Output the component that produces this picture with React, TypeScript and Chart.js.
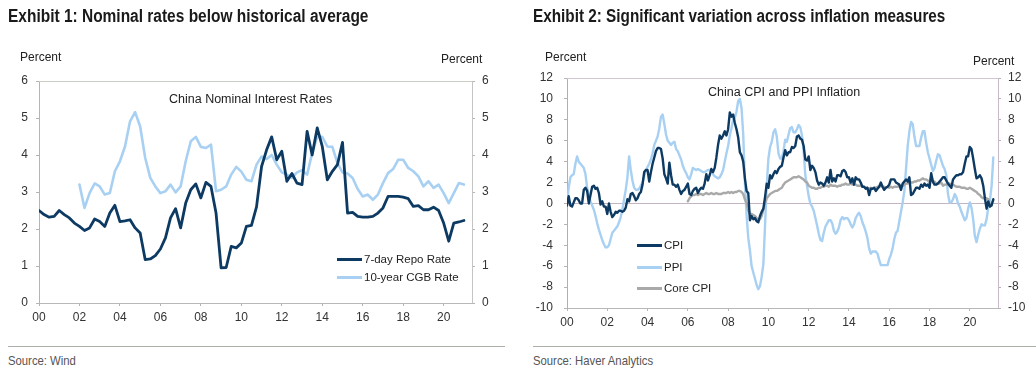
import React, { useEffect, useRef } from "react";
import { Chart, registerables } from "chart.js";
Chart.register(...registerables);

const NAVY = "#0d3a63";
const LIGHT = "#a8d0f2";
const GREY = "#a9a9a9";
const FONT = "'Liberation Sans', Arial, sans-serif";

// x axis: years since 2000
const xTickYears = [0, 2, 4, 6, 8, 10, 12, 14, 16, 18, 20];
const xTickLabels = ["00", "02", "04", "06", "08", "10", "12", "14", "16", "18", "20"];

// Exhibit 1 (quarterly)
const ratesTicks = [0, 1, 2, 3, 4, 5, 6];
const repoStart = 0; // 2000Q1
const repoRate = [
  2.5, 2.39, 2.32, 2.34,
  2.5, 2.39, 2.3, 2.16,
  2.07, 1.96, 2.03, 2.27,
  2.2, 2.07, 2.43, 2.64,
  2.2, 2.22, 2.25, 2.03,
  1.89, 1.17, 1.19, 1.28,
  1.46, 1.76, 2.3, 2.55,
  2.03, 2.7, 3.06, 3.22,
  2.84, 3.26, 3.15, 2.43,
  0.95, 0.96, 1.53, 1.49,
  1.62, 2.07, 2.1, 2.6,
  3.69, 4.14, 4.49, 3.87,
  4.1, 3.29, 3.5, 3.24,
  3.2, 4.64, 4.0, 4.73,
  4.23, 3.33, 3.56, 3.74,
  4.34, 2.43, 2.45, 2.34,
  2.32, 2.32, 2.34, 2.43,
  2.57, 2.88, 2.88, 2.88,
  2.86, 2.82, 2.61, 2.63,
  2.52, 2.52, 2.59, 2.5,
  2.16, 1.67, 2.16, 2.19,
  2.23,
];
const cgbStart = 2; // 2002Q1
const cgbRate = [
  3.2, 2.57, 2.97, 3.23,
  3.15, 2.93, 2.97, 3.56,
  3.83, 4.23, 4.91, 5.16,
  4.77, 3.92, 3.38, 3.15,
  2.97, 3.02, 3.2, 2.99,
  3.15, 3.83, 4.37, 4.49,
  4.22, 4.19, 4.28, 3.02,
  3.06, 3.15, 3.47, 3.68,
  3.55, 3.33, 3.29, 3.74,
  3.96, 3.89, 4.0, 3.74,
  3.53, 3.47, 3.38, 3.53,
  3.59, 3.47, 4.05, 4.49,
  4.49, 4.23, 4.22, 3.78,
  3.53, 3.5, 3.38, 3.08,
  2.88, 2.93, 2.79, 2.93,
  3.24, 3.51, 3.62, 3.87,
  3.87, 3.65, 3.56, 3.42,
  3.15, 3.29, 3.11, 3.2,
  2.97, 2.7, 2.97, 3.24,
  3.2,
];

// Exhibit 2 (monthly)
const inflTicks = [-10, -8, -6, -4, -2, 0, 2, 4, 6, 8, 10, 12];
const cpiStart = 0; // Jan 2000
const cpi = [
  -0.2, 0.7, -0.2, -0.3, 0.1, 0.5, 0.5, 0.3, 0.0, 0.0, 1.3, 1.5,
  1.2, 0.0, 0.8, 1.6, 1.7, 1.4, 1.5, 1.0, -0.1, 0.2, -0.3, -0.3,
  -1.0, 0.0, -0.8, -1.3, -1.1, -0.8, -0.9, -0.7, -0.7, -0.8, -0.7, -0.4,
  0.4, 0.2, 0.9, 1.0, 0.7, 0.3, 0.5, 0.9, 1.1, 1.8, 3.0, 3.2,
  3.2, 2.1, 3.0, 3.8, 4.4, 5.0, 5.3, 5.3, 5.2, 4.3, 2.8, 2.4,
  1.9, 3.9, 2.7, 1.8, 1.8, 1.6, 1.8, 1.3, 0.9, 1.2, 1.3, 1.6,
  1.9, 0.9, 0.8, 1.2, 1.4, 1.5, 1.0, 1.3, 1.5, 1.4, 1.9, 2.8,
  2.2, 2.7, 3.3, 3.0, 3.4, 4.4, 5.6, 6.5, 6.2, 6.5, 6.9, 6.5,
  7.1, 8.7, 8.3, 8.5, 7.7, 7.1, 6.3, 4.9, 4.6, 4.0, 2.4, 1.2,
  1.0, -1.6, -1.2, -1.5, -1.4, -1.7, -1.8, -1.2, -0.8, -0.5, 0.6, 1.9,
  1.5, 2.7, 2.4, 2.8, 3.1, 2.9, 3.3, 3.5, 3.6, 4.4, 5.1, 4.6,
  4.9, 4.9, 5.4, 5.3, 5.5, 6.4, 6.5, 6.2, 6.1, 5.5, 4.2, 4.1,
  4.5, 3.2, 3.6, 3.4, 3.0, 2.2, 1.8, 2.0, 1.9, 1.7, 2.0, 2.5,
  2.0, 3.2, 2.1, 2.4, 2.1, 2.7, 2.7, 2.6, 3.1, 3.2, 3.0, 2.5,
  2.5, 2.0, 2.4, 1.8, 2.5, 2.3, 2.3, 2.0, 1.6, 1.6, 1.4, 1.5,
  0.8, 1.4, 1.4, 1.5, 1.2, 1.4, 1.6, 2.0, 1.6, 1.3, 1.5, 1.6,
  1.8, 2.3, 2.3, 2.3, 2.0, 1.9, 1.8, 1.3, 1.9, 2.1, 2.3, 2.1,
  2.5, 0.8, 0.9, 1.2, 1.5, 1.5, 1.4, 1.8, 1.6, 1.9, 1.7, 1.8,
  1.5, 2.9, 2.1, 1.8, 1.8, 1.9, 2.1, 2.3, 2.5, 2.5, 2.2, 1.9,
  1.7, 1.5, 2.3, 2.5, 2.7, 2.7, 2.8, 2.8, 3.0, 3.8, 4.5, 4.5,
  5.4, 5.2, 4.3, 3.3, 2.4, 2.5, 2.7, 2.4, 1.7, 0.5, -0.5, 0.2,
  -0.3, -0.2, 0.4,
];
const ppiStart = 0; // Jan 2000
const ppi = [
  0.1, 1.5, 2.5, 2.7, 2.8, 3.8, 4.5, 4.0, 3.8, 3.6, 3.4, 2.8,
  1.5, 0.8, 0.2, -0.2, -0.6, -1.2, -1.9, -2.5, -3.0, -3.5, -3.9, -4.2,
  -4.2, -4.0, -3.4, -2.8, -2.6, -2.4, -2.2, -1.8, -1.3, -0.6, 0.4, 1.3,
  2.5, 4.5, 3.2, 2.2, 1.5, 1.3, 1.3, 1.4, 1.7, 2.0, 2.6, 3.2,
  3.5, 3.8, 4.2, 4.8, 5.6, 6.0, 6.4, 7.2, 8.3, 8.5, 7.6, 6.6,
  6.0, 5.8, 5.6, 5.8, 5.9, 5.2, 5.0, 4.6, 4.2, 3.6, 3.2, 2.9,
  2.5, 2.3, 2.8, 3.4, 3.3, 3.2, 3.3, 3.2, 3.1, 3.0, 3.0, 3.1,
  3.2, 3.2, 3.1, 2.8, 2.6, 2.5, 2.4, 2.5, 2.8, 3.2, 4.0, 4.8,
  5.5, 6.5, 7.2, 8.0, 8.2, 8.8, 9.8, 10.0, 9.1, 6.6, 2.0, -1.1,
  -3.3, -4.5, -6.0, -6.6, -7.2, -7.8, -8.2, -7.9, -7.0, -5.8, -2.1, 1.7,
  4.3, 5.4, 5.9, 6.8, 7.1, 6.4, 4.8, 4.3, 4.3, 5.0, 6.1, 5.9,
  6.6, 7.2, 7.3, 6.8, 6.8, 7.1, 7.5, 7.3, 6.5, 5.0, 2.7, 1.7,
  0.7, 0.0, -0.3, -0.7, -1.4, -2.1, -2.9, -3.5, -3.6, -2.8, -2.2, -1.9,
  -1.6, -1.6, -1.9, -2.6, -2.9, -2.7, -2.3, -1.6, -1.3, -1.5, -1.4, -1.4,
  -1.6, -2.0, -2.3, -2.0, -1.4, -1.1, -0.9, -1.2, -1.8, -2.2, -2.7, -3.3,
  -4.3, -4.8, -4.6, -4.6, -4.6, -4.8, -5.4, -5.9, -5.9, -5.9, -5.9, -5.9,
  -5.3, -4.9, -4.3, -3.4, -2.8, -2.6, -1.7, -0.8, 0.1, 1.2, 3.3, 5.5,
  6.9, 7.8, 7.6, 6.4, 5.5, 5.5, 5.5, 6.3, 6.9, 6.9, 5.8, 4.9,
  4.3, 3.7, 3.1, 3.4, 4.1, 4.7, 4.6, 4.1, 3.6, 3.3, 2.7, 0.9,
  0.1, 0.1, 0.4, 0.9, 0.6, 0.0, -0.3, -0.8, -1.2, -1.6, -1.4, -0.5,
  0.1, -0.4, -1.5, -3.1, -3.7, -3.0, -2.4, -2.0, -2.1, -2.1, -1.5, -0.4,
  0.3, 1.7, 4.4,
];
const coreStart = 6; // Jan 2006
const coreCpi = [
  0.2, 0.5, 0.7, 0.8, 0.8, 0.9, 0.8, 0.9, 0.9, 0.8, 0.9, 1.0,
  0.9, 0.9, 1.0, 0.9, 0.9, 1.0, 0.9, 0.9, 0.9, 1.0, 1.0, 1.0,
  1.1, 1.0, 1.1, 1.0, 1.1, 1.1, 1.2, 1.2, 1.1, 0.9, 0.4, 0.0,
  -0.7, -1.0, -1.0, -1.1, -1.2, -1.4, -1.6, -1.5, -1.2, -0.6, 0.0, 0.5,
  0.7, 0.9, 1.0, 1.1, 1.2, 1.2, 1.3, 1.4, 1.5, 1.8, 2.0, 2.1,
  2.2, 2.3, 2.4, 2.5, 2.5, 2.5, 2.6, 2.5, 2.4, 2.3, 2.1, 2.0,
  1.7, 1.6, 1.5, 1.5, 1.4, 1.4, 1.5, 1.5, 1.6, 1.6, 1.7, 1.7,
  1.6, 1.8, 1.7, 1.7, 1.7, 1.6, 1.7, 1.7, 1.8, 1.8, 1.9, 1.8,
  1.8, 1.9, 1.8, 1.8, 1.8, 1.7, 1.7, 1.7, 1.6, 1.6, 1.5, 1.5,
  1.4, 1.5, 1.4, 1.5, 1.5, 1.6, 1.6, 1.7, 1.6, 1.6, 1.5, 1.6,
  1.5, 1.6, 1.5, 1.6, 1.6, 1.6, 1.7, 1.7, 1.7, 1.8, 1.9, 1.9,
  2.2, 2.0, 2.0, 2.1, 2.1, 2.2, 2.2, 2.3, 2.4, 2.3, 2.3, 2.2,
  2.0, 2.5, 2.0, 2.1, 1.9, 1.9, 1.9, 2.0, 1.7, 1.8, 1.8, 1.8,
  1.9, 1.8, 1.8, 1.7, 1.6, 1.6, 1.6, 1.5, 1.5, 1.5, 1.4, 1.4,
  1.5, 1.4, 1.3, 1.2, 1.1, 0.9, 0.8, 0.6, 0.5, 0.5, 0.5, 0.4,
  -0.3, 0.0, 0.3,
];

const X_MAX = 21.4;

function toPoints(start: number, step: number, vals: number[]) {
  return vals.map((v, i) => ({ x: start + i * step, y: v }));
}

const framePlugin = {
  id: "frame",
  beforeDatasetsDraw(chart: any, _args: any, opts: any) {
    const { ctx, chartArea: a, scales } = chart;
    ctx.save();
    ctx.lineWidth = 1;
    const line = (x1: number, y1: number, x2: number, y2: number, c: string) => {
      ctx.strokeStyle = c;
      ctx.beginPath();
      ctx.moveTo(x1, y1);
      ctx.lineTo(x2, y2);
      ctx.stroke();
    };
    const L = Math.round(a.left) + 0.5;
    const R = Math.round(a.right) + 0.5;
    const T = Math.round(a.top) + 0.5;
    const B = Math.round(a.bottom) + 0.5;
    if (opts.zero) {
      const zy = Math.round(scales.y.getPixelForValue(0)) + 0.5;
      line(L, zy, R, zy, opts.zero);
    }
    line(L, T, R, T, opts.top);
    line(R, T, R, B, opts.right);
    line(L, B, R, B, opts.bottom);
    line(L, T, L, B, opts.left);
    ctx.restore();
  },
};

type Cfg = {
  datasets: any[];
  yTicks: number[];
  leftW: number;
  rightW: number;
  top: number;
  xH: number;
  leftPad: number;
  rightPad: number;
  frame: any;
};

function buildConfig(c: Cfg): any {
  const tickFont = { family: FONT, size: 12 };
  const yMin = c.yTicks[0];
  const yMax = c.yTicks[c.yTicks.length - 1];
  const yAxis = (pos: string, w: number, pad: number) => ({
    type: "linear",
    position: pos,
    min: yMin,
    max: yMax,
    afterBuildTicks: (s: any) => {
      s.ticks = c.yTicks.map((v) => ({ value: v }));
    },
    afterFit: (s: any) => {
      s.width = w;
    },
    grid: { drawOnChartArea: false, drawTicks: true, tickLength: 3, color: "#b4b4b4" },
    border: { display: false },
    ticks: { font: tickFont, color: "#333", padding: pad },
  });
  return {
    type: "line",
    data: { datasets: c.datasets },
    plugins: [framePlugin],
    options: {
      animation: false,
      responsive: false,
      events: [],
      layout: { padding: { top: c.top, left: 0, right: 0, bottom: 0 } },
      elements: { point: { radius: 0 }, line: { tension: 0, borderJoinStyle: "round", borderCapStyle: "round" } },
      plugins: {
        legend: { display: false },
        tooltip: { enabled: false },
        frame: c.frame,
      },
      scales: {
        x: {
          type: "linear",
          min: 0,
          max: X_MAX,
          afterBuildTicks: (s: any) => {
            s.ticks = xTickYears.map((v) => ({ value: v }));
          },
          afterFit: (s: any) => {
            s.height = c.xH;
          },
          grid: { drawOnChartArea: false, drawTicks: true, tickLength: 3, color: "#b4b4b4" },
          border: { display: false },
          ticks: {
            font: tickFont,
            color: "#333",
            padding: 4,
            maxRotation: 0,
            autoSkip: false,
            callback: (v: number) => {
              const i = xTickYears.indexOf(v);
              return i >= 0 ? xTickLabels[i] : "";
            },
          },
        },
        y: yAxis("left", c.leftW, c.leftPad),
        y2: yAxis("right", c.rightW, c.rightPad),
      },
    },
  };
}

function ChartCanvas({ cfg, left, width, height }: { cfg: () => any; left: number; width: number; height: number }) {
  const ref = useRef<HTMLCanvasElement | null>(null);
  useEffect(() => {
    if (!ref.current) return;
    const chart = new Chart(ref.current, cfg());
    return () => chart.destroy();
  }, []);
  return (
    <canvas
      ref={ref}
      width={width}
      height={height}
      style={{ position: "absolute", left, top: 0, width, height }}
    />
  );
}

function Txt({ x, y, s, size = 12, weight = 400, color = "#222", sx = 1 }: any) {
  return (
    <div
      style={{
        position: "absolute",
        left: x,
        top: y - size * 0.55,
        fontSize: size,
        lineHeight: `${size * 1.1}px`,
        fontFamily: FONT,
        fontWeight: weight,
        color,
        whiteSpace: "nowrap",
        transform: sx !== 1 ? `scaleX(${sx})` : undefined,
        transformOrigin: "left center",
      }}
    >
      {s}
    </div>
  );
}

function LegendLine({ x, y, color }: any) {
  return (
    <div
      style={{ position: "absolute", left: x, top: y - 1.5, width: 25, height: 3, background: color }}
    />
  );
}

function Rule({ x1, x2, y, color }: any) {
  return <div style={{ position: "absolute", left: x1, top: y, width: x2 - x1, height: 1, background: color }} />;
}

const chart1 = () =>
  buildConfig({
    datasets: [
      { label: "7-day Repo Rate", data: toPoints(repoStart, 0.25, repoRate), borderColor: NAVY, borderWidth: 2.8, yAxisID: "y" },
      { label: "10-year CGB Rate", data: toPoints(cgbStart, 0.25, cgbRate), borderColor: LIGHT, borderWidth: 2.6, yAxisID: "y" },
    ],
    yTicks: ratesTicks,
    leftW: 39,
    rightW: 46,
    top: 81,
    xH: 42,
    leftPad: 8,
    rightPad: 7,
    frame: { top: "#c7cfc5", right: "#c4c4c4", bottom: "#b8b8b8", left: "#b4b4b4" },
  });

const chart2 = () =>
  buildConfig({
    datasets: [
      { label: "CPI", data: toPoints(cpiStart, 1 / 12, cpi), borderColor: NAVY, borderWidth: 2.4, yAxisID: "y" },
      { label: "Core CPI", data: toPoints(coreStart, 1 / 12, coreCpi), borderColor: GREY, borderWidth: 2.4, yAxisID: "y" },
      { label: "PPI", data: toPoints(ppiStart, 1 / 12, ppi), borderColor: LIGHT, borderWidth: 2.4, yAxisID: "y" },
    ],
    yTicks: inflTicks,
    leftW: 49,
    rightW: 38,
    top: 78,
    xH: 37,
    leftPad: 11,
    rightPad: 7,
    frame: { top: "#d2c6d2", right: "#c9bac9", bottom: "#b8b8b8", left: "#b0b0b0", zero: "#c4b4c4" },
  });

export default function App() {
  return (
    <div style={{ position: "absolute", left: 0, top: 0, width: 1036, height: 380, background: "#fff", overflow: "hidden" }}>
      <ChartCanvas cfg={chart1} left={0} width={518} height={345} />
      <ChartCanvas cfg={chart2} left={518} width={518} height={345} />

      <Txt x={8} y={17} s="Exhibit 1: Nominal rates below historical average" size={18} weight={700} color="#1a1a1a" sx={0.86} />
      <Txt x={533} y={17} s="Exhibit 2: Significant variation across inflation measures" size={18} weight={700} color="#1a1a1a" sx={0.85} />

      <Txt x={20} y={58} s="Percent" size={12} />
      <Txt x={441} y={60} s="Percent" size={12} />
      <Txt x={545} y={58} s="Percent" size={12} />
      <Txt x={973} y={62} s="Percent" size={12} />

      <Txt x={169} y={100} s="China Nominal Interest Rates" size={12.5} />
      <Txt x={708} y={93} s="China CPI and PPI Inflation" size={12.5} />

      <LegendLine x={337} y={259} color={NAVY} />
      <Txt x={364} y={259} s="7-day Repo Rate" size={11.5} />
      <LegendLine x={337} y={277} color={LIGHT} />
      <Txt x={364} y={277} s="10-year CGB Rate" size={11.5} />

      <LegendLine x={637} y={245} color={NAVY} />
      <Txt x={664} y={245} s="CPI" size={11.5} />
      <LegendLine x={637} y={267} color={LIGHT} />
      <Txt x={664} y={267} s="PPI" size={11.5} />
      <LegendLine x={637} y={288} color={GREY} />
      <Txt x={664} y={288} s="Core CPI" size={11.5} />

      <Rule x1={8} x2={505} y={346} color="#aab2a8" />
      <Rule x1={533} x2={1036} y={346} color="#aab2a8" />
      <Txt x={8} y={361} s="Source: Wind" size={13} color="#555" sx={0.87} />
      <Txt x={533} y={361} s="Source: Haver Analytics" size={13} color="#555" sx={0.87} />
    </div>
  );
}
